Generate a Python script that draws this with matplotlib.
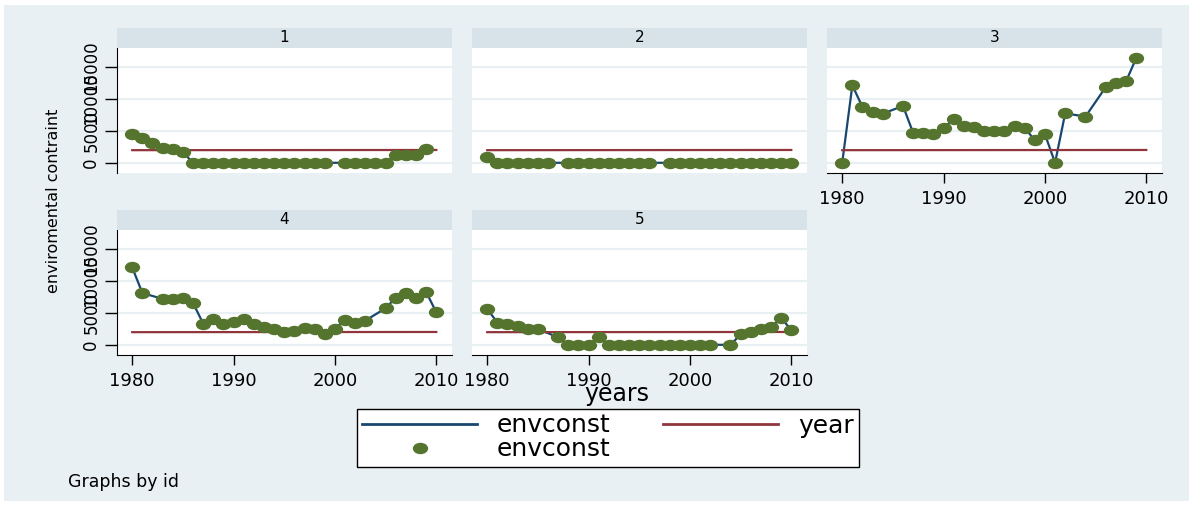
import numpy as np
import pandas as pd
import matplotlib
matplotlib.use('Agg')
import matplotlib.pyplot as plt
from matplotlib.path import Path
from matplotlib.lines import Line2D
from matplotlib.patches import Rectangle

plt.rcParams['font.family'] = ['DejaVu Sans']

N = None
years = list(range(1980, 2011))
ids = [1, 2, 3, 4, 5]

# envconst by id, 1980-2010 (None = no observation that year)
env1 = [4530, 3860, 3125, 2340, 2140, 1670, 0, 0, 0, 0, 0, 0, 0, 0, 0, 0,
        0, 0, 0, 0, N, 0, 0, 0, 0, 0, 1250, 1250, 1250, 2140, N]
env2 = [900, 0, 0, 0, 0, 0, 0, N, 0, 0, 0, 0, 0, 0, 0, 0,
        0, N, 0, 0, 0, 0, 0, 0, 0, 0, 0, 0, 0, 0, 0]
env3 = [0, 12140, 8750, 7970, 7710, N, 8906, 4690, 4740, 4480, 5420, 6875,
        5780, 5570, 4950, 4950, 4950, 5780, 5470, 3540, 4480, 0, 7760, N,
        7240, N, 11875, 12550, 12760, 16400, N]
env4 = [12135, 8125, N, 7190, 7240, 7290, 6560, 3330, 4060, 3330, 3650, 4110,
        3280, 2810, 2450, 2030, 2190, 2660, 2500, 1720, 2450, 3960, 3490, 3800,
        N, 5730, 7400, 8125, 7340, 8280, 5100]
env5 = [5625, 3490, 3230, 2970, 2500, 2500, N, 1150, 0, 0, 0, 1200, 0, 0, 0,
        0, 0, 0, 0, 0, 0, 0, 0, N, 0, 1615, 2030, 2500, 2760, 4170, 2340]
envs = [env1, env2, env3, env4, env5]

yticks = [0, 5000, 10000, 15000]
xticks = [1980, 1990, 2000, 2010]

# stata s2color look
bg = '#e9f0f3'
strip = '#d7e3e9'
navy = '#1a476f'
maroon = '#90353b'
green = '#55752f'

# slightly flattened dot
circ = Path.unit_circle()
dot = Path(circ.vertices * np.array([1.0, 0.72]), circ.codes)

W, H = 1193, 505
fig = plt.figure(figsize=(W / 100, H / 100), dpi=100)
fig.patch.set_facecolor('white')
fig.patches.append(Rectangle((4 / W, 4 / H), (W - 8) / W, (H - 9) / H,
                             transform=fig.transFigure, facecolor=bg,
                             edgecolor='none', zorder=-10))

colx = [117, 472, 827]
rowtop = [48, 230]
pw, ph, sh = 335, 125, 20

for k, (pid, env) in enumerate(zip(ids, envs)):
    r, c = divmod(k, 3)
    x0, top = colx[c], rowtop[r]
    ax = fig.add_axes([x0 / W, 1 - (top + ph) / H, pw / W, ph / H])
    ax.set_facecolor('white')

    s = pd.Series(env, index=years, dtype=float)
    obs = s.dropna()
    ax.plot(obs.index, obs.values, color=navy, lw=1.6, zorder=2)
    ax.plot(years, years, color=maroon, lw=1.6, zorder=3)
    ax.plot(obs.index, obs.values, ls='none', marker=dot, ms=10,
            mfc=green, mec=green, zorder=4)

    ax.set_xlim(1978.5, 2011.55)
    ax.set_ylim(-1600, 18000)
    ax.set_yticks(yticks)
    ax.set_xticks(xticks)
    ax.grid(axis='y', color=bg, lw=1.6, zorder=0)
    ax.set_axisbelow(True)

    has_y = c == 0
    has_x = pid in (3, 4, 5)
    for side in ['top', 'right']:
        ax.spines[side].set_visible(False)
    ax.spines['left'].set_visible(has_y)
    ax.spines['bottom'].set_visible(has_x)
    ax.tick_params(axis='y', left=has_y, labelleft=has_y, direction='out',
                   length=9, width=1, labelsize=12, labelrotation=90, pad=3)
    ax.tick_params(axis='x', bottom=has_x, labelbottom=has_x, direction='out',
                   length=7, width=1, labelsize=13, pad=5)
    for t in ax.get_yticklabels():
        t.set_va('center')

    sax = fig.add_axes([x0 / W, 1 - top / H, pw / W, sh / H])
    sax.set_facecolor(strip)
    sax.set_xticks([])
    sax.set_yticks([])
    for sp in sax.spines.values():
        sp.set_visible(False)
    sax.text(0.5, 0.5, str(pid), ha='center', va='center', fontsize=11,
             transform=sax.transAxes)

fig.text(54 / W, 1 - 201 / H, 'enviromental contraint', rotation=90,
         ha='center', va='center', fontsize=11.5)
fig.text(617 / W, 1 - 394 / H, 'years', ha='center', va='center',
         fontsize=17)
fig.text(68 / W, 1 - 482 / H, 'Graphs by id', ha='left', va='center',
         fontsize=12.5)

handles = [Line2D([], [], color=navy, lw=2),
           Line2D([], [], ls='none', marker=dot, ms=10, mfc=green, mec=green),
           Line2D([], [], color=maroon, lw=2)]
labels = ['envconst', 'envconst', 'year']
leg = fig.legend(handles, labels, ncol=2, loc='center',
                 bbox_to_anchor=(608 / W, 1 - 437.5 / H), fontsize=18,
                 frameon=True, fancybox=False, edgecolor='black',
                 facecolor='white', framealpha=1,
                 handlelength=4.6, handletextpad=0.8, columnspacing=2.1,
                 labelspacing=0.0, borderpad=0.2)
leg.get_frame().set_linewidth(1.0)

fig.savefig('out.png', dpi=100)
